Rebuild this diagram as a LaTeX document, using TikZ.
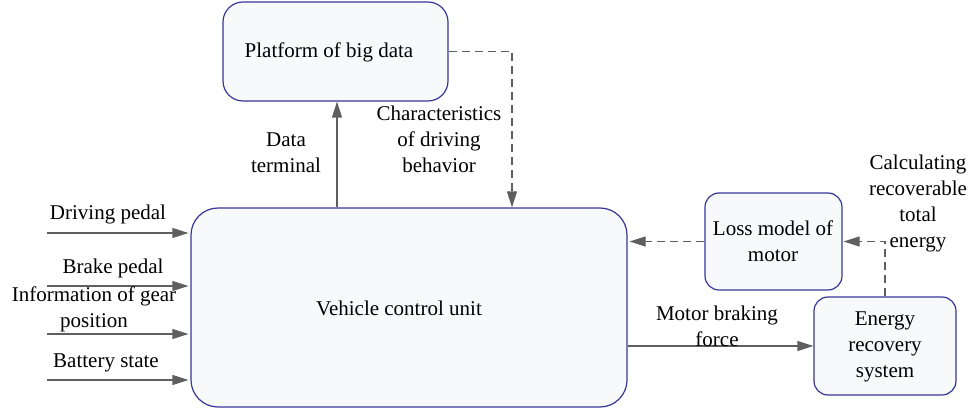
\documentclass[tikz,border=0pt]{standalone}
\usepackage{fontspec}
\setmainfont{Liberation Serif}
\usetikzlibrary{arrows.meta}
\definecolor{boxblue}{RGB}{55,55,150}
\definecolor{boxfill}{RGB}{247,249,251}
\definecolor{arrgray}{RGB}{95,95,95}
\begin{document}
\begin{tikzpicture}[x=1pt,y=-1pt,
 box/.style={draw=boxblue, fill=boxfill, line width=1.2pt, inner sep=0pt, anchor=center},
 lbl/.style={font=\fontsize{21}{26}\selectfont, align=center, text=black, inner sep=0pt},
 conn/.style={draw=arrgray, line width=1.2pt, -{Triangle[length=16pt,width=10pt]}},
 dconn/.style={conn, dash pattern=on 8pt off 5pt}]
\useasboundingbox (0,0) rectangle (971,411);
% boxes
\node[box, rounded corners=20pt, minimum width=225pt, minimum height=99pt] (plat) at (335.5,51.5) {};
\node[box, rounded corners=27pt, minimum width=436pt, minimum height=199pt] (vcu) at (409,307.5) {};
\node[box, rounded corners=14pt, minimum width=137pt, minimum height=97pt] (loss) at (773.5,241.5) {};
\node[box, rounded corners=14pt, minimum width=142pt, minimum height=98pt] (energy) at (885,346) {};
% box texts
\node[lbl] (tplat) at (329,52) {Platform of big data};
\node[lbl] (tvcu) at (399,308) {Vehicle control unit};
\node[lbl] (tloss) at (773,241) {Loss model of\\motor};
\node[lbl] (tenergy) at (885,347) {Energy\\recovery\\system};
% input arrows
\coordinate (in1) at (47,233);
\coordinate (in2) at (47,286);
\coordinate (in3) at (47,334);
\coordinate (in4) at (47,380);
\foreach \c in {in1,in2,in3,in4}
  \draw[conn] (\c) -- ([xshift=-2pt]\c -| vcu.west);
\node[lbl] (l1) at (108,214) {Driving pedal};
\node[lbl] (l2) at (113,268) {Brake pedal};
\node[lbl] (l3) at (94,309) {Information of gear\\position};
\node[lbl] (l4) at (106,363) {Battery state};
% vcu <-> platform
\draw[conn] ([xshift=-72pt]vcu.north) -- ([xshift=-72pt]vcu.north |- plat.south);
\draw[dconn] (plat.east) -| ([xshift=103pt]vcu.north);
\node[lbl] (ldata) at (286,153) {Data\\terminal};
\node[lbl] (lchar) at (439,139) {Characteristics\\of driving\\behavior};
% right side
\draw[dconn] (loss.west) -- ([xshift=2pt]loss.west -| vcu.east);
\draw[dconn] (energy.north) |- ([xshift=1pt]loss.east);
\draw[conn] (energy.west -| vcu.east) -- (energy.west);
\node[lbl] (lcalc) at (918,203) {Calculating\\recoverable\\total\\energy};
\node[lbl] (lmotor) at (717,326) {Motor braking\\force};
\end{tikzpicture}
\end{document}
